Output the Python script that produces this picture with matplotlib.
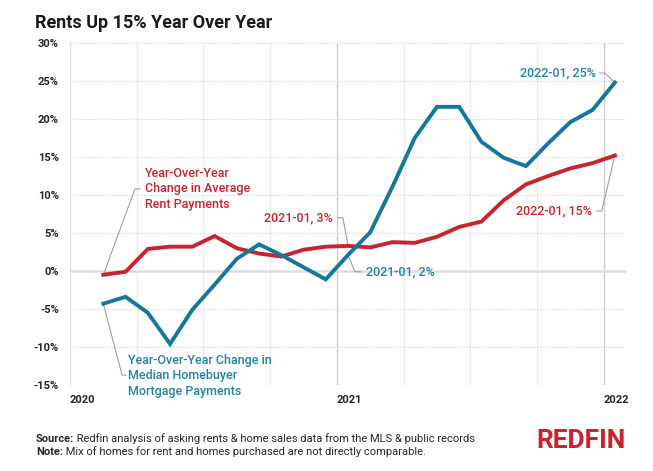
import matplotlib.pyplot as plt
import matplotlib.ticker

# months since 2020-01 (points plotted mid-month, 2020-02 .. 2022-01)
months = [m + 0.5 for m in range(1, 25)]

rent_yoy = [-0.5, -0.1, 2.9, 3.2, 3.2, 4.6, 3.0, 2.3, 1.9, 2.8, 3.2, 3.3,
            3.1, 3.8, 3.7, 4.5, 5.8, 6.5, 9.3, 11.4, 12.5, 13.5, 14.2, 15.2]
mortgage_yoy = [-4.3, -3.4, -5.5, -9.6, -5.1, -1.8, 1.6, 3.5, 2.1, 0.5, -1.1, 2.1,
                5.1, 11.1, 17.5, 21.6, 21.6, 17.0, 14.9, 13.8, 16.8, 19.6, 21.2, 24.8]

year_ticks = [0, 12, 24]
year_labels = ["2020", "2021", "2022"]
y_ticks = [-15, -10, -5, 0, 5, 10, 15, 20, 25, 30]

RED = "#c8232e"
BLUE = "#13789a"
BLUE_TXT = "#1f84a4"
LEADER = "#a0a0a0"
DARK = "#262626"

plt.rcParams["font.family"] = ["Roboto", "DejaVu Sans"]

fig = plt.figure(figsize=(6.53, 4.71), dpi=100)
ax = fig.add_axes([70 / 653, 1 - 385 / 471, 556 / 653, 342 / 471])

# grid
for m in range(3, 25, 3):
    col = "#cfcfcf" if m % 12 == 0 else "#ececec"
    ax.axvline(m, color=col, lw=1.0, zorder=0)
for v in y_ticks:
    if v == 0:
        ax.axhline(v, color="#dedede", lw=1.8, zorder=0)
    else:
        ax.axhline(v, color="#d4d4d4", lw=0.8, ls=(0, (1, 1.2)), zorder=0)
ax.axvline(0, color="#dedede", lw=1.0, zorder=0)

ax.plot(months, rent_yoy, color=RED, lw=2.8, solid_joinstyle="miter", zorder=3)
ax.plot(months, mortgage_yoy, color=BLUE, lw=2.8, solid_joinstyle="miter", zorder=3)

ax.set_xlim(0, 25)
ax.set_ylim(-15, 30)
for s in ax.spines.values():
    s.set_visible(False)

ax.set_yticks(y_ticks)
ax.yaxis.set_major_formatter(matplotlib.ticker.FuncFormatter(lambda v, p: f"{v:.0f}%"))
ax.tick_params(axis="y", length=0, pad=8, labelsize=8, labelcolor=DARK)
for lbl in ax.get_yticklabels():
    lbl.set_fontweight("bold")
ax.set_xticks(year_ticks)
ax.set_xticklabels(year_labels, fontweight="bold", fontsize=8, color=DARK, ha="left")
ax.tick_params(axis="x", length=0, pad=7)


def leader(xs, ys):
    ax.plot(xs, ys, color=LEADER, lw=0.8, zorder=2, clip_on=False)


# series labels
ax.text(3.37, 10.8, "Year-Over-Year\nChange in Average\nRent Payments", color=RED,
        fontsize=9, fontweight="medium", va="center", ha="left", linespacing=1.25)
leader([months[0], 2.92, 3.15], [rent_yoy[0], 10.8, 10.8])

ax.text(2.61, -13.8, "Year-Over-Year Change in\nMedian Homebuyer\nMortgage Payments", color=BLUE_TXT,
        fontsize=9, fontweight="medium", va="center", ha="left", linespacing=1.25)
leader([months[0], 2.34, 2.52], [mortgage_yoy[0], -13.7, -13.7])

# point labels
ax.text(11.82, 7.0, "2021-01, 3%", color=RED, fontsize=9, fontweight="medium", va="center", ha="right")
leader([12.04, 12.27, months[11]], [7.0, 7.0, rent_yoy[11]])

ax.text(13.3, -0.1, "2021-01, 2%", color=BLUE_TXT, fontsize=9, fontweight="medium", va="center", ha="left")
leader([months[11], 12.81, 13.08], [mortgage_yoy[11], -0.1, -0.1])

ax.text(23.64, 26.05, "2022-01, 25%", color=BLUE_TXT, fontsize=9, fontweight="medium", va="center", ha="right")
leader([23.82, 24.04, months[-1]], [26.05, 26.05, mortgage_yoy[-1]])

ax.text(23.46, 7.9, "2022-01, 15%", color=RED, fontsize=9, fontweight="medium", va="center", ha="right")
leader([23.69, 23.91, months[-1]], [7.9, 7.9, rent_yoy[-1]])

# title and footer
fig.text(35 / 653, 1 - 23 / 471, "Rents Up 15% Year Over Year", fontsize=13, fontweight="bold",
         color="#1a1a1a", va="center", ha="left")

src = fig.text(36 / 653, 1 - 439 / 471, "Source:", fontsize=8, fontweight="bold", color=DARK, va="center")
fig.canvas.draw()
ax.annotate(" Redfin analysis of asking rents & home sales data from the MLS & public records",
            xy=(1, 0.5), xycoords=src, va="center", ha="left", fontsize=8, color=DARK)
note = fig.text(36 / 653, 1 - 452 / 471, "Note:", fontsize=8, fontweight="bold", color=DARK, va="center")
ax.annotate(" Mix of homes for rent and homes purchased are not directly comparable.",
            xy=(1, 0.5), xycoords=note, va="center", ha="left", fontsize=8, color=DARK)

fig.text(626 / 653, 1 - 441 / 471, "REDFIN", fontsize=19, fontweight="bold", color=RED,
         va="center", ha="right")

fig.savefig("out.png", dpi=100)
